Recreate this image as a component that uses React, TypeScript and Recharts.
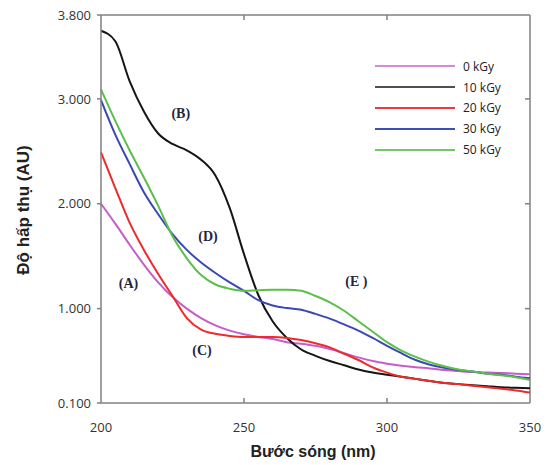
import React from 'react';
import { LineChart, Line, XAxis, YAxis, ReferenceDot, ReferenceLine } from 'recharts';

const wavelengths = [200, 205, 210, 215, 220, 225, 230, 235, 240, 245, 250, 255, 260, 265, 270, 275, 280, 285, 290, 295, 300, 305, 310, 315, 320, 325, 330, 335, 340, 345, 350];
const kGy0 = [2.0, 1.81, 1.61, 1.42, 1.25, 1.11, 1.0, 0.91, 0.84, 0.79, 0.755, 0.73, 0.71, 0.68, 0.665, 0.645, 0.615, 0.575, 0.535, 0.5, 0.475, 0.455, 0.44, 0.43, 0.415, 0.405, 0.395, 0.39, 0.385, 0.38, 0.375];
const kGy10 = [3.65, 3.55, 3.17, 2.88, 2.67, 2.57, 2.51, 2.42, 2.27, 1.96, 1.52, 1.13, 0.88, 0.72, 0.61, 0.55, 0.5, 0.46, 0.42, 0.39, 0.37, 0.35, 0.33, 0.31, 0.29, 0.28, 0.27, 0.26, 0.25, 0.245, 0.24];
const kGy20 = [2.49, 2.15, 1.82, 1.56, 1.33, 1.12, 0.91, 0.8, 0.76, 0.74, 0.73, 0.73, 0.73, 0.72, 0.7, 0.67, 0.63, 0.57, 0.51, 0.44, 0.39, 0.35, 0.33, 0.31, 0.29, 0.28, 0.265, 0.25, 0.235, 0.22, 0.2];
const kGy30 = [2.99, 2.66, 2.38, 2.11, 1.9, 1.71, 1.56, 1.44, 1.34, 1.25, 1.17, 1.08, 1.03, 1.005, 0.99, 0.95, 0.905, 0.85, 0.79, 0.72, 0.645, 0.575, 0.51, 0.465, 0.435, 0.415, 0.4, 0.38, 0.37, 0.35, 0.335];
const kGy50 = [3.09, 2.79, 2.51, 2.25, 1.98, 1.69, 1.48, 1.32, 1.23, 1.19, 1.17, 1.175, 1.18, 1.18, 1.17, 1.12, 1.06, 0.98, 0.88, 0.78, 0.68, 0.6, 0.54, 0.49, 0.45, 0.42, 0.4, 0.38, 0.365, 0.345, 0.32];

const seriesKeys = ['k0', 'k10', 'k20', 'k30', 'k50'];
const seriesNames = ['0 kGy', '10 kGy', '20 kGy', '30 kGy', '50 kGy'];
const seriesColors = ['#c55ec9', '#151515', '#ee2a2a', '#3a48b4', '#5cbf48'];
const legendColors = ['#d88ad8', '#505050', '#ee3a3a', '#3c50b8', '#70c860'];

const xMin = 200;
const xMax = 350;
const yMin = 0.1;
const yMax = 3.8;
const xTicks = [200, 250, 300, 350];
const yTicks = [0.1, 1, 2, 3, 3.8];
const innerYTicks = [1, 2, 3];
const innerXTicks = [250, 300];

const annotationLabels = ['(A)', '(B)', '(C)', '(D)', '(E )'];
const annotationX = [209.6, 227.9, 235.3, 237.4, 289.3];
const annotationY = [1.243, 2.86, 0.6, 1.69, 1.26];

const seriesValues = [kGy0, kGy10, kGy20, kGy30, kGy50];
const data = wavelengths.map((wl, i) => {
  const row: Record<string, number> = { wl };
  seriesKeys.forEach((k, s) => {
    row[k] = seriesValues[s][i];
  });
  return row;
});

const AXIS = '#808080';
const TICK_FONT = "'Open Sans', sans-serif";

const BottomTick = (props: any) => {
  const { x, y, payload } = props;
  return (
    <g>
      {payload.value !== xMin && payload.value !== xMax ? (
        <line x1={x} x2={x} y1={y} y2={y - 5} stroke={AXIS} strokeWidth={1.5} />
      ) : null}
      <text x={x} y={y + 29} textAnchor="middle" fontSize={13} fontFamily={TICK_FONT} fill="#333">
        {payload.value}
      </text>
    </g>
  );
};

const AnnotationShape = (label: string) => (props: any) => (
  <text
    x={props.cx}
    y={props.cy}
    textAnchor="middle"
    dominantBaseline="central"
    fontFamily="'Liberation Serif', serif"
    fontWeight="bold"
    fontSize={14}
    fill="#23263f"
  >
    {label}
  </text>
);

// tick length in data units for the inward frame ticks (5px of 429px / 388px)
const xTickLen = ((xMax - xMin) * 5) / 429;
const yTickLen = ((yMax - yMin) * 5) / 388;

export default function App() {
  return (
    <div style={{ position: 'absolute', left: 0, top: 0, width: 549, height: 465, background: '#fff' }}>
      <LineChart
        width={549}
        height={465}
        data={data}
        margin={{ top: 15, right: 19, bottom: 0, left: 0 }}
      >
        <XAxis
          dataKey="wl"
          type="number"
          domain={[xMin, xMax]}
          ticks={xTicks}
          interval={0}
          height={62}
          tickSize={0}
          tickMargin={0}
          tickLine={false}
          axisLine={{ stroke: AXIS, strokeWidth: 1.5 }}
          tick={<BottomTick />}
        />
        <YAxis
          type="number"
          domain={[yMin, yMax]}
          ticks={yTicks}
          interval={0}
          width={101}
          tickSize={4}
          tickMargin={6}
          tickLine={{ stroke: AXIS, strokeWidth: 1.5 }}
          axisLine={{ stroke: AXIS, strokeWidth: 1.5 }}
          tickFormatter={(v: number) => v.toFixed(3)}
          tick={{ fontSize: 13, fill: '#333', fontFamily: TICK_FONT }}
        />
        <ReferenceLine y={yMax} stroke={AXIS} strokeWidth={1.5} />
        <ReferenceLine x={xMax} stroke={AXIS} strokeWidth={1.5} />
        {innerXTicks.map((t) => (
          <ReferenceLine
            key={'tx' + t}
            segment={[{ x: t, y: yMax }, { x: t, y: yMax - yTickLen }]}
            stroke={AXIS}
            strokeWidth={1.5}
          />
        ))}
        {innerYTicks.map((t) => (
          <ReferenceLine
            key={'ty' + t}
            segment={[{ x: xMax, y: t }, { x: xMax - xTickLen, y: t }]}
            stroke={AXIS}
            strokeWidth={1.5}
          />
        ))}
        {seriesKeys.map((k, i) => (
          <Line
            key={k}
            dataKey={k}
            name={seriesNames[i]}
            type="monotone"
            stroke={seriesColors[i]}
            strokeWidth={2}
            dot={false}
            isAnimationActive={false}
          />
        ))}
        {annotationLabels.map((lab, i) => (
          <ReferenceDot
            key={lab}
            x={annotationX[i]}
            y={annotationY[i]}
            r={0}
            shape={AnnotationShape(lab)}
          />
        ))}
      </LineChart>
      <div
        style={{
          position: 'absolute',
          left: 375,
          top: 56,
          fontFamily: TICK_FONT,
          fontSize: 12,
          color: '#222',
        }}
      >
        {seriesNames.map((n, i) => (
          <div key={n} style={{ display: 'flex', alignItems: 'center', height: 20.8 }}>
            <div style={{ width: 80, height: 2, background: legendColors[i], marginRight: 8 }} />
            <span>{n}</span>
          </div>
        ))}
      </div>
      <div
        style={{
          position: 'absolute',
          left: 313,
          top: 452,
          transform: 'translate(-50%, -50%)',
          fontFamily: "'Liberation Sans', Arial, sans-serif",
          fontWeight: 'bold',
          fontSize: 16,
          color: '#222',
          whiteSpace: 'nowrap',
        }}
      >
        Bước sóng (nm)
      </div>
      <div
        style={{
          position: 'absolute',
          left: 24,
          top: 210,
          transform: 'translate(-50%, -50%) rotate(-90deg)',
          fontFamily: "'Liberation Sans', Arial, sans-serif",
          fontWeight: 'bold',
          fontSize: 17,
          color: '#222',
          whiteSpace: 'nowrap',
        }}
      >
        Độ hấp thụ (AU)
      </div>
    </div>
  );
}
